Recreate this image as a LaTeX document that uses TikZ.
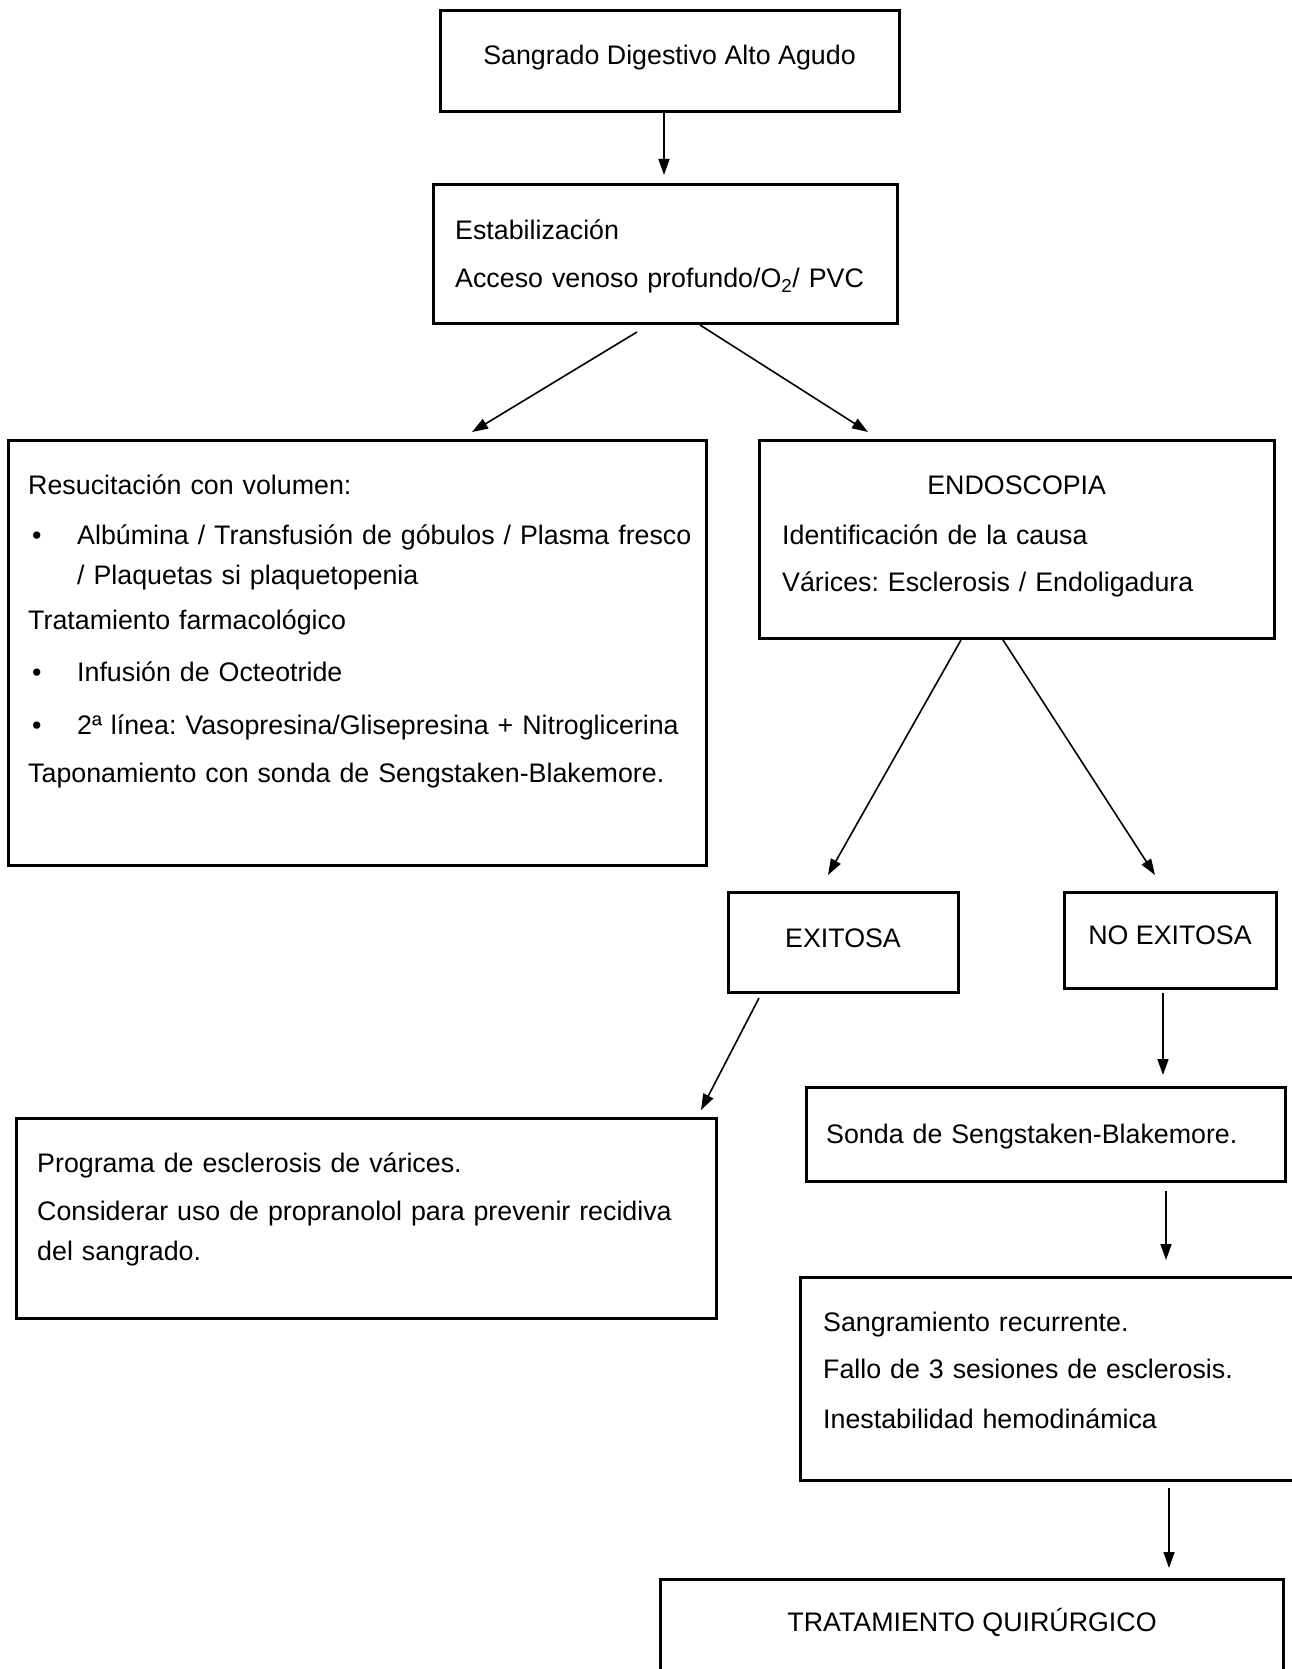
\documentclass[tikz,border=0pt]{standalone}
\usepackage{fontspec}
\setmainfont{Liberation Sans}
\frenchspacing
\usetikzlibrary{arrows.meta}
\tikzset{
  box/.style={draw, line width=3pt, anchor=north west, inner sep=0pt, outer sep=0pt},
  txt/.style={anchor=base west, inner sep=0pt, align=left, text width=#1},
  txt/.default=700pt,
  ctxt/.style={anchor=base, inner sep=0pt},
  arr/.style={line width=1.6pt, -{Triangle[length=16pt,width=11pt]}}
}
\begin{document}
\begin{tikzpicture}[x=1pt, y=-1pt, font=\fontsize{26.8}{48}\selectfont]
\useasboundingbox (0,0) rectangle (1291,1669);
% boxes
\node[box, minimum width=459pt, minimum height=101pt] (sangrado) at (440,11) {};
\node[box, minimum width=464pt, minimum height=138pt] (estab) at (433,185) {};
\node[box, minimum width=698pt, minimum height=425pt] (resus) at (8,440) {};
\node[box, minimum width=515pt, minimum height=198pt] (endo) at (759,440) {};
\node[box, minimum width=230pt, minimum height=100pt] (exitosa) at (728,892) {};
\node[box, minimum width=212pt, minimum height=96pt] (noexit) at (1064,892) {};
\node[box, minimum width=700pt, minimum height=200pt] (programa) at (16,1118) {};
\node[box, minimum width=479pt, minimum height=94pt] (sonda) at (806,1087) {};
\node[box, minimum width=500pt, minimum height=203pt] (recur) at (800,1277) {};
\node[box, minimum width=623pt, minimum height=120pt] (quir) at (660,1579) {};
% texts
\node[ctxt] (sangradotxt) at ([yshift=-54pt]sangrado.north) {Sangrado Digestivo Alto Agudo};
\node[txt] (estabtxt) at ([xshift=22pt,yshift=-55pt]estab.north west)
  {Estabilización\\
   Acceso venoso profundo/O\textsubscript{2}/ PVC};
\node[txt] (resustxt) at ([xshift=20pt,yshift=-54pt]resus.north west)
  {Resucitación con volumen:\\[2pt]
   \hspace*{4pt}\makebox[45pt][l]{•}Albúmina / Transfusión de góbulos / Plasma fresco\\[-8pt]
   \hspace*{49pt}/ Plaquetas si plaquetopenia\\[-3pt]
   Tratamiento farmacológico\\[4pt]
   \hspace*{4pt}\makebox[45pt][l]{•}Infusión de Octeotride\\[5pt]
   \hspace*{4pt}\makebox[45pt][l]{•}2ª línea: Vasopresina/Glisepresina + Nitroglicerina\\
   Taponamiento con sonda de Sengstaken-Blakemore.};
\node[txt=469pt] (endotxt) at ([xshift=23pt,yshift=-54pt]endo.north west)
  {\makebox[\linewidth]{ENDOSCOPIA}\\[2pt]
   Identificación de la causa\\[-1pt]
   Várices: Esclerosis / Endoligadura};
\node[ctxt] (exitosatxt) at ([yshift=-55pt]exitosa.north) {EXITOSA};
\node[ctxt] (noexittxt) at ([yshift=-52pt]noexit.north) {NO EXITOSA};
\node[txt] (programatxt) at ([xshift=21pt,yshift=-54pt]programa.north west)
  {Programa de esclerosis de várices.\\
   Considerar uso de propranolol para prevenir recidiva\\[-8pt]
   del sangrado.};
\node[txt] (sondatxt) at ([xshift=20pt,yshift=-56pt]sonda.north west) {Sonda de Sengstaken-Blakemore.};
\node[txt] (recurtxt) at ([xshift=23pt,yshift=-54pt]recur.north west)
  {Sangramiento recurrente.\\[-1pt]
   Fallo de 3 sesiones de esclerosis.\\[2pt]
   Inestabilidad hemodinámica};
\node[ctxt] (quirtxt) at ([xshift=0.5pt,yshift=-52pt]quir.north) {TRATAMIENTO QUIRÚRGICO};
% arrows
\draw[arr] ([xshift=-5.5pt]sangrado.south) -- ([xshift=-1pt,yshift=10pt]estab.north);
\draw[arr] ([xshift=-28pt,yshift=-9pt]estab.south) -- ([xshift=115pt,yshift=8pt]resus.north);
\draw[arr] ([xshift=35pt,yshift=-2pt]estab.south) -- ([xshift=-148.5pt,yshift=8pt]endo.north);
\draw[arr] ([xshift=-55.5pt,yshift=-2pt]endo.south) -- ([xshift=-15pt,yshift=17pt]exitosa.north);
\draw[arr] ([xshift=-13.5pt,yshift=-2pt]endo.south) -- ([xshift=-15pt,yshift=17pt]noexit.north);
\draw[arr] ([xshift=-84pt,yshift=-6pt]exitosa.south) -- ([xshift=335pt,yshift=8pt]programa.north);
\draw[arr] ([xshift=-7pt,yshift=-5pt]noexit.south) -- ([xshift=117.5pt,yshift=12pt]sonda.north);
\draw[arr] ([xshift=120.5pt,yshift=-10pt]sonda.south) -- ([xshift=116pt,yshift=17pt]recur.north);
\draw[arr] ([xshift=119pt,yshift=-8pt]recur.south) -- ([xshift=197.5pt,yshift=11pt]quir.north);
\end{tikzpicture}
\end{document}
